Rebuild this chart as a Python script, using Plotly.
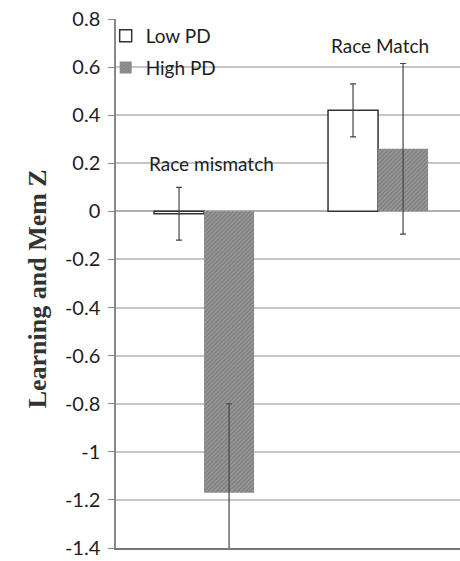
import plotly.graph_objects as go

categories = ["Race mismatch", "Race Match"]
low_pd = [-0.01, 0.42]
low_pd_err = [0.11, 0.11]
high_pd = [-1.17, 0.26]
high_pd_err = [0.37, 0.355]
tick_vals = [0.8, 0.6, 0.4, 0.2, 0, -0.2, -0.4, -0.6, -0.8, -1, -1.2, -1.4]
tick_text = ["0.8", "0.6", "0.4", "0.2", "0", "-0.2", "-0.4", "-0.6", "-0.8", "-1", "-1.2", "-1.4"]
group_labels = ["Race mismatch", "Race Match"]
group_label_y = [0.2, 0.69]

FONT = "Lato, Carlito, Calibri, sans-serif"
TXT = "#1e1e1e"

fig = go.Figure()
fig.add_trace(go.Bar(
    name="Low PD", x=categories, y=low_pd, legendgroup="low",
    marker=dict(color="white", line=dict(color="#333333", width=1.5)),
    error_y=dict(type="data", array=low_pd_err, color="#444444", thickness=1.2, width=3),
))
fig.add_trace(go.Bar(
    name="High PD", x=categories, y=high_pd, legendgroup="high",
    marker=dict(color="#888888", line=dict(width=0),
                pattern=dict(shape="/", fgcolor="#646464", bgcolor="#979797", size=3, solidity=0.45)),
    error_y=dict(type="data", array=high_pd_err, color="#444444", thickness=1.2, width=3),
))

for lab, yv, xi in zip(group_labels, group_label_y, [0.04, 1.01]):
    fig.add_annotation(x=xi, y=yv, xref="x", yref="y", text=lab, showarrow=False,
                       font=dict(family=FONT, size=19, color=TXT), xanchor="center", yanchor="middle")

fig.add_annotation(x=-0.228, y=0.49, xref="paper", yref="paper", text="<b>Learning and Mem Z</b>",
                   textangle=-90, showarrow=False, xanchor="center", yanchor="middle",
                   font=dict(family="Liberation Serif, Times New Roman, serif", size=26, color="#333333"))

fig.update_layout(
    width=460, height=561,
    margin=dict(l=116, r=0, t=19, b=13),
    paper_bgcolor="white", plot_bgcolor="white",
    barmode="group", bargap=0.425, bargroupgap=0,
    showlegend=True,
    legend=dict(x=-0.03, y=1.004, xanchor="left", yanchor="top", bgcolor="rgba(0,0,0,0)",
                font=dict(family=FONT, size=19, color=TXT), itemwidth=30, tracegroupgap=4),
    xaxis=dict(range=[-0.506, 1.471], showticklabels=False, ticks="", showgrid=False,
               showline=True, linecolor="#777777", linewidth=2, zeroline=False),
    yaxis=dict(range=[-1.4, 0.8], tickvals=tick_vals, ticktext=tick_text,
               tickfont=dict(family=FONT, size=20, color=TXT),
               ticks="outside", ticklen=6, tickcolor="#888888", ticklabelstandoff=4,
               showgrid=True, gridcolor="#c6c6c6", gridwidth=1.5,
               showline=True, linecolor="#888888", linewidth=1.5,
               zeroline=True, zerolinecolor="#b0b0b0", zerolinewidth=1.5),
)

fig.write_html("out.html")
